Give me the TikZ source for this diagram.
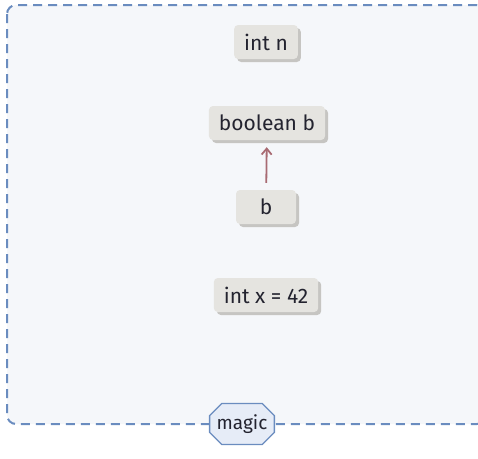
\documentclass[tikz,border=0pt]{standalone}
\usepackage{fontspec}
\setmainfont{Fira Sans}
\usetikzlibrary{shapes.misc,arrows.meta,shadows}
\definecolor{framec}{HTML}{6A8CBF}
\definecolor{bgc}{HTML}{F5F7FA}
\definecolor{boxc}{HTML}{E5E4E0}
\definecolor{shadc}{HTML}{C6C5C2}
\definecolor{txtc}{HTML}{23232F}
\definecolor{arrc}{HTML}{A86A72}
\definecolor{tagc}{HTML}{E6ECF7}
\tikzset{
  vbox/.style={rectangle, rounded corners=4pt, fill=boxc, text=txtc,
    font=\fontsize{21}{24}\selectfont, minimum height=34pt, inner xsep=10pt,
    drop shadow={shadow xshift=3pt, shadow yshift=-3pt, fill=shadc, opacity=1}},
  tag/.style={chamfered rectangle, chamfered rectangle xsep=6pt, chamfered rectangle ysep=6pt,
    fill=tagc, draw=framec, line width=1.3pt,
    text=txtc, font=\fontsize{19}{22}\selectfont, inner xsep=1pt, inner ysep=5pt},
  link/.style={-{Straight Barb[length=6pt,width=10pt]}, draw=arrc, line width=1.8pt}
}
\begin{document}
\begin{tikzpicture}[x=1pt,y=-1pt]
\useasboundingbox (0,0) rectangle (478,458);
\draw[framec, fill=bgc, line width=2pt, dash pattern=on 9pt off 6pt, rounded corners=9pt]
  (7,5) rectangle (486,424);
\node[vbox, minimum width=62pt] (n) at (266,42) {int n};
\node[vbox] (bb) at (267,123) {boolean b};
\node[vbox, minimum width=60pt] (b) at (266,207) {b};
\node[vbox] (x) at (266,295) {int x = 42};
\node[tag] (m) at (242,424) {magic};
\draw[link, shorten <=7pt, shorten >=7pt] (b) -- (bb);
\end{tikzpicture}
\end{document}
